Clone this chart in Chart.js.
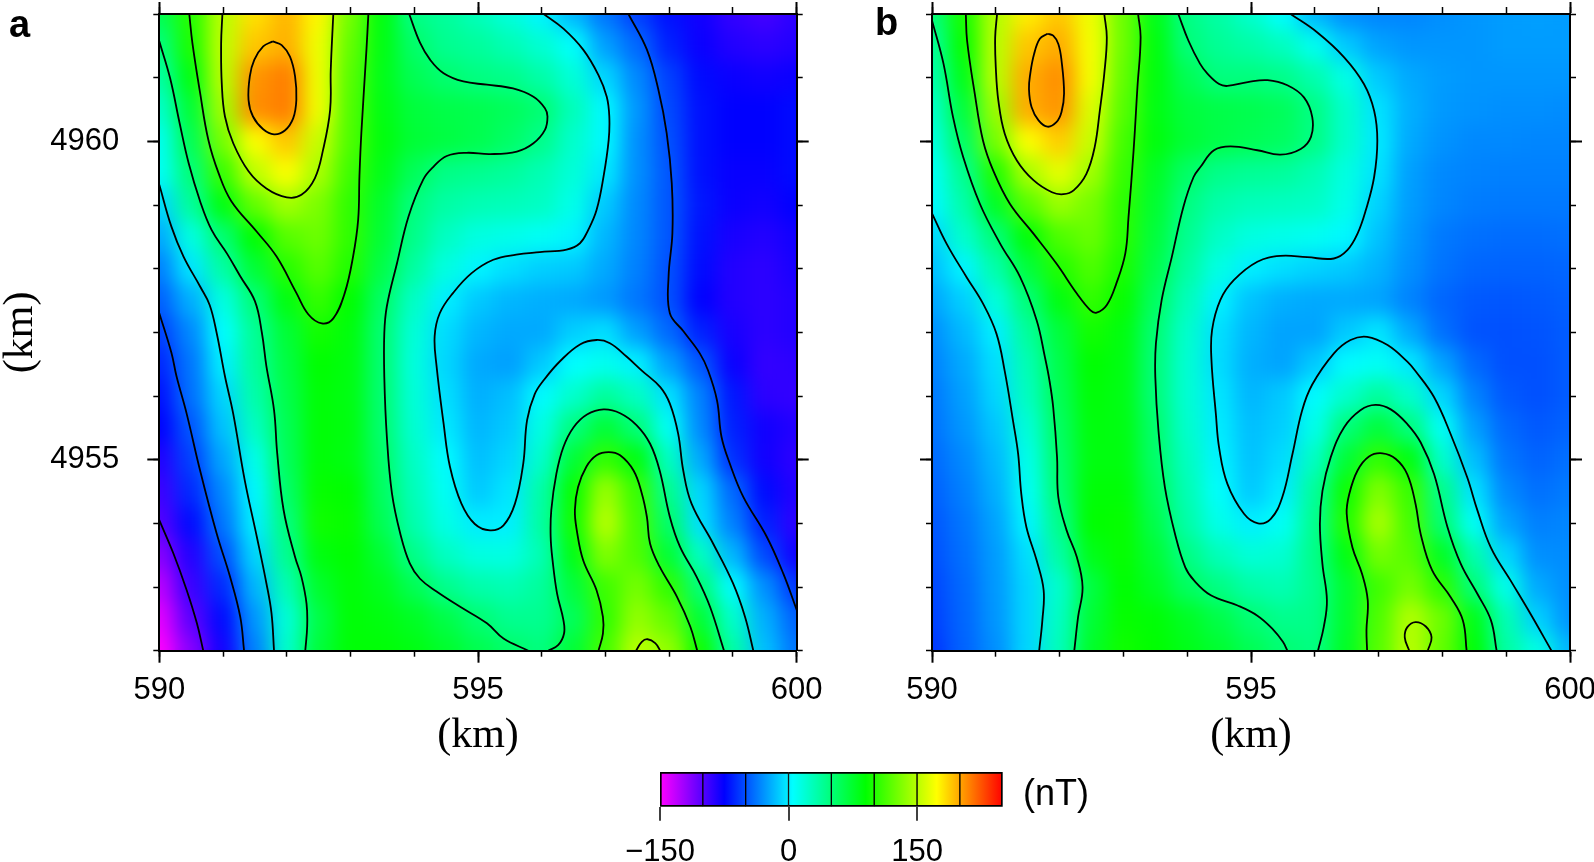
<!DOCTYPE html>
<html>
<head>
<meta charset="utf-8">
<style>
  html, body { margin: 0; background: #fff; overflow: hidden; }
  canvas { position: absolute; }
  .lab { position: absolute; color: #000; line-height: 1; white-space: nowrap; }
  .panel { font: bold 38px "Liberation Sans", sans-serif; }
  #unit { font: 36px "Liberation Sans", sans-serif; left: 1023px; top: 772px; }
</style>
<script src="https://cdn.jsdelivr.net/npm/chart.js@4"></script>
</head>
<body>
<canvas id="chartA" style="left:0;top:0" width="860" height="770"></canvas>
<canvas id="chartB" style="left:860px;top:0" width="734" height="770"></canvas>
<canvas id="chartBar" style="left:620px;top:740px" width="480" height="122"></canvas>
<div class="lab panel" style="left:9px;top:3px">a</div>
<div class="lab panel" style="left:875px;top:1px">b</div>
<div class="lab" id="unit">(nT)</div>
<script>
// grid of the two maps, km
const gridX = [590,590.5,591,591.5,592,592.5,593,593.5,594,594.5,595,595.5,596,596.5,597,597.5,598,598.5,599,599.5,600];
const gridY = [4962,4961.5,4961,4960.5,4960,4959.5,4959,4958.5,4958,4957.5,4957,4956.5,4956,4955.5,4955,4954.5,4954,4953.5,4953,4952.5,4952];
const xMajor = [590,595,600];
const xMinor = [590,591,592,593,594,595,596,597,598,599,600];
const yMajor = [4955,4960];
const yMinor = [4952,4953,4954,4955,4956,4957,4958,4959,4960,4961,4962];

// nT values, one row per gridY
const heatA = [
 [62,102,150,182,195,175,127,85,46,38,28,17,2,-18,-38,-55,-70,-80,-90,-95,-88],
 [48,98,152,190,197,168,122,84,55,42,38,30,20,6,-25,-42,-65,-78,-85,-88,-85],
 [35,85,150,205,212,168,118,82,62,53,47,44,34,18,-8,-32,-55,-72,-78,-80,-78],
 [22,72,142,207,212,168,116,84,70,66,64,60,52,28,3,-28,-52,-70,-75,-75,-72],
 [10,62,128,172,190,155,115,86,72,68,64,56,44,22,3,-30,-50,-70,-75,-75,-72],
 [8,50,108,152,172,145,110,82,60,45,42,38,30,18,-2,-30,-48,-70,-77,-77,-72],
 [-8,38,85,122,143,130,105,75,48,35,30,28,25,12,-12,-32,-48,-68,-78,-80,-75],
 [-22,15,52,90,118,125,105,72,44,25,15,12,8,2,-18,-33,-48,-70,-82,-85,-80],
 [-35,-3,35,72,102,118,100,66,36,15,2,-5,-10,-12,-22,-35,-50,-72,-85,-88,-82],
 [-45,-20,15,50,85,107,90,56,24,0,-12,-18,-20,-22,-27,-38,-50,-75,-85,-88,-85],
 [-55,-32,5,40,72,96,86,52,18,-6,-18,-22,-22,-10,-5,-25,-42,-65,-82,-88,-85],
 [-63,-38,0,38,68,90,85,52,16,-8,-22,-25,-12,5,10,1,-25,-48,-78,-90,-88],
 [-70,-40,-8,33,65,88,84,52,18,-5,-20,-15,4,22,38,25,-4,-35,-68,-88,-90],
 [-75,-48,-14,25,62,88,85,53,20,-2,-18,-12,14,48,72,50,8,-32,-65,-80,-85],
 [-85,-55,-23,12,60,88,84,56,24,4,-15,-8,22,72,106,85,25,-22,-60,-80,-88],
 [-93,-62,-32,3,55,92,90,58,28,8,-12,-3,34,92,140,108,42,-8,-42,-72,-85],
 [-100,-72,-38,0,48,95,92,62,32,13,-1,0,36,95,150,112,55,-5,-35,-65,-88],
 [-115,-85,-50,-8,42,85,90,72,44,25,15,14,30,84,132,115,72,25,-18,-52,-80],
 [-130,-92,-62,-18,30,75,88,80,62,43,33,30,38,70,110,128,105,50,4,-30,-58],
 [-142,-102,-72,-28,18,66,88,85,78,66,52,42,42,60,105,138,122,72,22,-20,-44],
 [-150,-115,-80,-35,22,70,88,88,84,75,64,55,48,72,112,150,138,95,35,-15,-38]
];

// nT values
const heatB = [
 [48,97,148,178,190,168,125,82,46,35,22,5,-18,-30,-33,-33,-30,-28,-26,-25,-26],
 [38,92,150,190,198,170,125,86,50,40,34,26,10,-12,-24,-28,-28,-28,-26,-26,-26],
 [32,82,150,198,207,170,122,86,62,48,48,44,32,13,-12,-22,-26,-28,-28,-28,-28],
 [22,70,140,198,205,162,118,84,70,66,64,60,46,22,-4,-20,-27,-29,-30,-30,-31],
 [15,58,128,172,188,155,112,86,72,66,62,58,46,22,-2,-22,-29,-32,-32,-33,-33],
 [8,42,100,145,165,142,108,78,56,44,40,38,30,15,-4,-25,-32,-34,-35,-35,-35],
 [3,33,78,118,140,128,104,74,47,33,28,26,24,12,-9,-26,-33,-36,-37,-37,-37],
 [-8,22,50,88,115,124,103,70,42,24,15,12,9,3,-14,-28,-37,-40,-41,-41,-40],
 [-15,2,33,70,100,115,98,65,36,14,0,-5,-9,-12,-19,-30,-39,-43,-44,-44,-43],
 [-23,-10,17,50,85,106,92,58,28,1,-14,-20,-22,-22,-24,-34,-43,-47,-48,-47,-45],
 [-30,-17,0,38,70,96,85,52,22,-5,-18,-24,-24,-12,-3,-22,-40,-49,-50,-49,-46],
 [-34,-22,-5,30,65,90,84,50,20,-6,-20,-24,-12,4,8,-2,-24,-42,-50,-50,-46],
 [-37,-25,-8,26,62,88,83,50,20,-3,-18,-12,4,22,38,22,-8,-34,-47,-50,-46],
 [-39,-28,-13,18,58,86,84,54,22,-1,-15,-10,12,50,70,48,8,-25,-42,-47,-44],
 [-42,-32,-17,12,55,85,85,55,26,2,-14,-6,25,72,106,85,22,-15,-38,-44,-40],
 [-45,-35,-20,8,52,88,88,60,30,6,-12,-1,38,94,132,108,44,-4,-32,-40,-36],
 [-48,-38,-24,2,44,90,92,65,34,12,0,8,42,100,145,112,52,8,-24,-35,-33],
 [-50,-40,-26,-5,35,82,92,72,46,28,18,20,44,85,128,118,78,32,-8,-30,-31],
 [-53,-42,-27,-8,22,68,90,78,58,46,34,30,42,74,110,128,104,50,12,-22,-30],
 [-55,-43,-28,-8,25,72,92,88,78,66,52,43,44,75,115,148,125,82,30,-10,-29],
 [-58,-44,-30,-8,28,76,95,90,82,74,62,52,47,78,118,150,122,88,36,14,-18]
];

// contour lines of panel a, [km east, km north]
const a200 = [[591.78,4961.57],[591.63,4961.49],[591.49,4961.28],[591.42,4961.02],[591.40,4960.65],[591.47,4960.39],[591.63,4960.19],[591.80,4960.11],[591.97,4960.17],[592.10,4960.36],[592.15,4960.65],[592.13,4961.02],[592.05,4961.33],[591.92,4961.51],[591.78,4961.57]];
const a150 = [[590.99,4962],[590.97,4961.54],[590.98,4960.91],[591.03,4960.39],[591.16,4959.97],[591.40,4959.53],[591.68,4959.26],[592.00,4959.12],[592.23,4959.16],[592.44,4959.42],[592.57,4959.87],[592.68,4960.49],[592.69,4961.12],[592.73,4962]];
const a100 = [[590.47,4962],[590.52,4961.54],[590.64,4960.76],[590.77,4960.02],[590.93,4959.5],[591.13,4959.06],[591.53,4958.58],[591.84,4958.19],[592.15,4957.62],[592.34,4957.28],[592.55,4957.14],[592.73,4957.22],[592.91,4957.62],[593.04,4958.19],[593.12,4958.77],[593.14,4959.45],[593.17,4960.13],[593.25,4961.44],[593.28,4962]];
const a50Left = [[590,4961.57],[590.17,4960.99],[590.32,4960.28],[590.46,4959.66],[590.64,4959.06],[590.82,4958.61],[591.06,4958.24],[591.27,4957.88],[591.5,4957.49],[591.61,4956.99],[591.68,4956.47],[591.8,4955.78],[591.85,4955.1],[591.95,4954.21],[592.13,4953.47],[592.23,4953.16],[592.31,4952.74],[592.32,4952.38],[592.29,4952]];
const a0Left = [[590,4959.32],[590.19,4958.66],[590.38,4958.19],[590.64,4957.72],[590.79,4957.43],[590.9,4956.99],[591.03,4956.31],[591.16,4955.72],[591.34,4954.68],[591.53,4953.79],[591.68,4953.06],[591.76,4952.59],[591.8,4952]];
const aM50Left = [[590,4957.3],[590.19,4956.68],[590.27,4956.31],[590.43,4955.72],[590.64,4954.83],[590.9,4953.84],[591.11,4953.16],[591.27,4952.53],[591.33,4952]];
const aM100 = [[590,4954.05],[590.22,4953.53],[590.43,4952.95],[590.59,4952.43],[590.69,4952]];
const a50Mid = [[593.92,4962],[594.09,4961.55],[594.25,4961.28],[594.46,4961.07],[594.77,4960.94],[595.14,4960.89],[595.55,4960.83],[595.87,4960.7],[596.05,4960.52],[596.09,4960.39],[596.05,4960.18],[595.87,4959.97],[595.61,4959.84],[595.19,4959.8],[594.82,4959.82],[594.51,4959.77],[594.3,4959.6],[594.14,4959.4],[593.91,4958.82],[593.73,4958.09],[593.57,4957.41],[593.53,4956.99],[593.53,4956.3],[593.57,4955.36],[593.65,4954.47],[593.78,4953.84],[593.93,4953.37],[594.09,4953.13],[594.35,4952.93],[594.72,4952.69],[595.14,4952.43],[595.4,4952.19],[595.79,4952]];
const a50Bell = [[596.1,4952],[596.26,4952.09],[596.35,4952.27],[596.34,4952.48],[596.24,4952.9],[596.17,4953.42],[596.14,4953.79],[596.15,4954.21],[596.23,4954.78],[596.34,4955.2],[596.5,4955.51],[596.71,4955.71],[596.97,4955.79],[597.23,4955.73],[597.49,4955.54],[597.7,4955.25],[597.85,4954.83],[598.01,4954.1],[598.17,4953.63],[598.43,4953.16],[598.64,4952.69],[598.86,4952]];
const a100Bell = [[596.89,4952],[596.96,4952.27],[596.96,4952.53],[596.86,4952.95],[596.65,4953.42],[596.55,4953.89],[596.52,4954.21],[596.57,4954.57],[596.7,4954.89],[596.86,4955.07],[597.05,4955.12],[597.23,4955.07],[597.44,4954.83],[597.57,4954.47],[597.65,4954.1],[597.7,4953.68],[597.85,4953.32],[598.12,4952.85],[598.33,4952.38],[598.44,4952]];
const a150Bell = [[597.48,4952],[597.57,4952.14],[597.66,4952.18],[597.78,4952.12],[597.86,4952]];
const a0Right = [[596.03,4962],[596.34,4961.77],[596.65,4961.44],[596.89,4961.04],[597.02,4960.7],[597.06,4960.39],[597.05,4960.02],[596.97,4959.45],[596.86,4958.92],[596.73,4958.61],[596.6,4958.4],[596.39,4958.3],[595.97,4958.26],[595.6,4958.22],[595.24,4958.14],[594.9,4957.93],[594.61,4957.62],[594.4,4957.3],[594.32,4956.94],[594.35,4956.47],[594.46,4955.57],[594.56,4954.89],[594.74,4954.31],[594.95,4953.99],[595.19,4953.89],[595.4,4953.97],[595.58,4954.31],[595.71,4954.94],[595.77,4955.62],[595.89,4956.03],[596.04,4956.26],[596.29,4956.55],[596.6,4956.81],[596.86,4956.88],[597.07,4956.83],[597.33,4956.62],[597.57,4956.4],[597.86,4956.14],[598.01,4955.88],[598.14,4955.41],[598.22,4954.83],[598.35,4954.31],[598.69,4953.68],[599.0,4953.06],[599.19,4952.53],[599.32,4952]];
const aM50Right = [[597.36,4962],[597.65,4961.44],[597.83,4960.81],[597.96,4960.13],[598.04,4959.34],[598.05,4958.56],[597.99,4957.88],[598.01,4957.3],[598.22,4957.02],[598.48,4956.67],[598.61,4956.4],[598.75,4955.93],[598.82,4955.36],[598.95,4954.94],[599.16,4954.42],[599.53,4953.79],[599.79,4953.21],[600,4952.64]];
const contoursA = [a200,a150,a100,a50Left,a0Left,aM50Left,aM100,a50Mid,a50Bell,a100Bell,a150Bell,a0Right,aM50Right];

// contour lines of panel b
const b200 = [[591.81,4961.69],[591.69,4961.61],[591.6,4961.37],[591.54,4961.06],[591.52,4960.82],[591.56,4960.54],[591.67,4960.33],[591.81,4960.23],[591.95,4960.3],[592.03,4960.46],[592.07,4960.75],[592.03,4961.27],[591.98,4961.53],[591.9,4961.66],[591.81,4961.69]];
const b150 = [[591.02,4962],[590.99,4961.63],[591,4961.16],[591.04,4960.64],[591.14,4960.12],[591.33,4959.7],[591.59,4959.39],[591.88,4959.2],[592.06,4959.17],[592.22,4959.23],[592.42,4959.49],[592.55,4959.91],[592.63,4960.48],[592.7,4961.06],[592.74,4961.63],[592.7,4962]];
const b100 = [[590.53,4962],[590.55,4961.58],[590.67,4960.75],[590.8,4960.01],[590.96,4959.54],[591.22,4959.02],[591.59,4958.55],[591.95,4958.08],[592.27,4957.61],[592.48,4957.35],[592.58,4957.31],[592.74,4957.43],[592.89,4957.77],[593.03,4958.24],[593.08,4958.81],[593.16,4959.86],[593.22,4960.85],[593.27,4961.63],[593.23,4962]];
const b50Left = [[590,4961.9],[590.18,4961.22],[590.33,4960.38],[590.49,4959.75],[590.75,4959.02],[591.07,4958.39],[591.38,4957.87],[591.64,4957.19],[591.77,4956.61],[591.84,4956.25],[591.9,4955.82],[591.96,4955.04],[591.98,4954.41],[592.11,4953.89],[592.27,4953.47],[592.36,4953],[592.29,4952.53],[592.23,4952]];
const b0Left = [[590,4958.87],[590.23,4958.39],[590.54,4957.87],[590.8,4957.45],[591.01,4956.98],[591.14,4956.39],[591.27,4955.61],[591.35,4955.09],[591.4,4954.46],[591.48,4953.94],[591.64,4953.42],[591.75,4952.95],[591.73,4952.48],[591.68,4952]];
const b50Mid = [[593.86,4962],[594.02,4961.58],[594.2,4961.22],[594.32,4961.06],[594.5,4960.9],[594.63,4960.87],[594.95,4960.93],[595.26,4960.96],[595.57,4960.88],[595.83,4960.69],[595.96,4960.38],[595.94,4960.07],[595.78,4959.88],[595.46,4959.79],[595.1,4959.86],[594.68,4959.92],[594.42,4959.86],[594.21,4959.6],[594.1,4959.44],[593.94,4958.97],[593.76,4958.19],[593.6,4957.51],[593.51,4956.83],[593.5,4956.3],[593.55,4955.45],[593.65,4954.57],[593.81,4953.83],[593.97,4953.31],[594.11,4953.1],[594.37,4952.87],[594.79,4952.71],[595.1,4952.55],[595.34,4952.34],[595.5,4952.14],[595.57,4952]];
const b50Bell = [[596.05,4952],[596.14,4952.37],[596.19,4952.79],[596.12,4953.36],[596.08,4953.99],[596.12,4954.51],[596.25,4955.04],[596.46,4955.51],[596.72,4955.78],[596.95,4955.86],[597.19,4955.79],[597.45,4955.56],[597.66,4955.27],[597.87,4954.77],[598.08,4953.94],[598.29,4953.36],[598.55,4952.89],[598.76,4952.48],[598.85,4952]];
const b100Bell = [[596.82,4952],[596.81,4952.32],[596.83,4952.79],[596.74,4953.21],[596.59,4953.62],[596.5,4954.15],[596.54,4954.46],[596.67,4954.83],[596.85,4955.05],[597.06,4955.1],[597.27,4955.01],[597.45,4954.77],[597.58,4954.3],[597.66,4953.83],[597.84,4953.26],[598.13,4952.84],[598.32,4952.48],[598.38,4952]];
const b150Bell = [[597.48,4952],[597.41,4952.21],[597.45,4952.37],[597.58,4952.45],[597.74,4952.38],[597.83,4952.21],[597.77,4952]];
const b0Right = [[595.62,4962],[596.04,4961.71],[596.46,4961.32],[596.77,4960.9],[596.93,4960.48],[596.98,4960.01],[596.93,4959.44],[596.8,4958.92],[596.67,4958.55],[596.51,4958.29],[596.3,4958.16],[595.88,4958.18],[595.46,4958.2],[595.1,4958.11],[594.73,4957.82],[594.52,4957.51],[594.39,4957.04],[594.38,4956.57],[594.45,4955.71],[594.5,4955.19],[594.63,4954.62],[594.89,4954.15],[595.11,4954],[595.31,4954.07],[595.49,4954.41],[595.65,4955.09],[595.8,4955.77],[595.96,4956.18],[596.3,4956.67],[596.56,4956.88],[596.82,4956.93],[597.14,4956.8],[597.45,4956.54],[597.58,4956.39],[597.87,4955.98],[598.13,4955.4],[598.39,4954.72],[598.55,4954.2],[598.76,4953.62],[599.07,4953.1],[599.38,4952.58],[599.71,4952]];
const contoursB = [b200,b150,b100,b50Left,b0Left,b50Mid,b50Bell,b100Bell,b150Bell,b0Right];

// colour scale
const stopValues = [-150,-75,5,90,173,250];
const stopColors = [[255,0,255],[0,0,255],[0,255,255],[0,255,0],[255,255,0],[255,0,0]];
const barLevels = [-150,-100,-50,0,50,100,150,200,250];
const barTicks = [-150,0,150];

function colorOf(v) {
  let i = 0;
  while (i < stopValues.length - 2 && v > stopValues[i + 1]) i++;
  const t = Math.min(1, Math.max(0, (v - stopValues[i]) / (stopValues[i + 1] - stopValues[i])));
  const c = stopColors[i].map((a, k) => Math.round(a + (stopColors[i + 1][k] - a) * t));
  return 'rgb(' + c.join(',') + ')';
}

const numFont = { family: 'Liberation Sans', size: 31 };

// the original cells are tiny, so soften the coarser grid once it is drawn
const softCells = {
  id: 'softCells',
  afterDatasetDraw(chart, args) {
    if (!chart.data.datasets[args.index].isHeat) return;
    const a = chart.chartArea, ctx = chart.ctx, cv = chart.canvas;
    const tmp = document.createElement('canvas');
    tmp.width = cv.width;
    tmp.height = cv.height;
    tmp.getContext('2d').drawImage(cv, 0, 0);
    ctx.save();
    ctx.clearRect(0, 0, cv.width, cv.height);
    ctx.beginPath();
    ctx.rect(a.left, a.top, a.right - a.left, a.bottom - a.top);
    ctx.clip();
    ctx.drawImage(tmp, 0, 0);
    ctx.filter = 'blur(10px)';
    ctx.drawImage(tmp, 0, 0);
    ctx.restore();
  }
};

function noSize(scale) {
  if (scale.isHorizontal()) scale.height = 0; else scale.width = 0;
  scale.paddingLeft = scale.paddingRight = scale.paddingTop = scale.paddingBottom = 0;
}

function tickAxis(position, lo, hi, values, len, width, extra) {
  return Object.assign({
    type: 'linear', position: position, min: lo, max: hi, weight: -1,
    afterBuildTicks: s => { s.ticks = values.map(v => ({ value: v })); },
    afterFit: noSize,
    grid: { z: 1, drawOnChartArea: false, drawTicks: true, tickLength: len, tickWidth: width, tickColor: '#000' },
    border: { display: true, color: '#000', width: 2, z: 1 },
    ticks: { z: 1, display: false, autoSkip: false, maxRotation: 0 }
  }, extra);
}

function panel(id, rows, lines, left, right, showY) {
  const cells = [];
  gridY.forEach((y, i) => gridX.forEach((x, j) => cells.push({ x: x, y: y, v: rows[i][j] })));

  const datasets = lines.map(l => ({
    type: 'scatter', showLine: true, order: 0, clip: 0,
    data: l.map(p => ({ x: p[0], y: p[1] })),
    borderColor: '#000', borderWidth: 1.8, tension: 0.4, pointRadius: 0
  }));
  datasets.push({
    type: 'scatter', isHeat: true, order: 1, clip: false, data: cells,
    pointStyle: 'rect', borderWidth: 0,
    backgroundColor: c => colorOf(c.raw.v),
    radius: c => {
      const s = c.chart.scales.x;
      return (Math.abs(s.getPixelForValue(gridX[1]) - s.getPixelForValue(gridX[0])) + 1) * Math.SQRT1_2;
    }
  });

  const yLeft = tickAxis('left', 4952, 4962, yMajor, 12, 2, { weight: 0 });
  yLeft.afterFit = s => { noSize(s); s.width = left; };
  if (showY) {
    yLeft.ticks = { z: 1, display: true, font: numFont, color: '#000', padding: 28, autoSkip: false, maxRotation: 0, callback: v => String(v) };
    yLeft.title = { display: true, text: '(km)', color: '#000', font: { family: 'Liberation Serif', size: 42, lineHeight: 1 }, padding: 0 };
  }

  const xBottom = tickAxis('bottom', 590, 600, xMajor, 12, 2, { weight: 0 });
  xBottom.afterFit = s => { noSize(s); s.height = 119.3; };
  xBottom.ticks = { z: 1, display: true, font: numFont, color: '#000', padding: 9, autoSkip: false, maxRotation: 0, callback: v => String(v) };
  xBottom.title = { display: true, text: '(km)', color: '#000', font: { family: 'Liberation Serif', size: 42, lineHeight: 1 }, padding: { top: 0, bottom: 13 } };

  return new Chart(document.getElementById(id), {
    type: 'scatter',
    data: { datasets: datasets },
    plugins: [softCells],
    options: {
      responsive: false,
      animation: false,
      events: [],
      layout: { padding: { left: 0, top: 14, right: right, bottom: 0 } },
      plugins: { legend: { display: false }, tooltip: { enabled: false } },
      scales: {
        x: xBottom,
        xSmall: tickAxis('bottom', 590, 600, xMinor, 6, 1.5),
        xTop: tickAxis('top', 590, 600, xMajor, 12, 2, { weight: 0 }),
        xTopSmall: tickAxis('top', 590, 600, xMinor, 7, 1.5),
        y: yLeft,
        ySmall: tickAxis('left', 4952, 4962, yMinor, 6, 1.5),
        yRight: tickAxis('right', 4952, 4962, yMajor, 12, 2, { weight: 0 }),
        yRightSmall: tickAxis('right', 4952, 4962, yMinor, 6, 1.5)
      }
    }
  });
}

panel('chartA', heatA, contoursA, 159.3, 63.3, true);
panel('chartB', heatB, contoursB, 72, 24, false);

// colour bar
function barFill(c) {
  const s = c.chart.scales.x;
  if (!s || !c.chart.chartArea) return '#fff';
  const g = c.chart.ctx.createLinearGradient(s.getPixelForValue(-150), 0, s.getPixelForValue(250), 0);
  stopValues.forEach((v, i) => g.addColorStop((v + 150) / 400, 'rgb(' + stopColors[i].join(',') + ')'));
  return g;
}
const barSets = barLevels.slice(0, -1).map((lo, i) => ({
  data: [[lo, barLevels[i + 1]]],
  backgroundColor: barFill,
  borderColor: '#000',
  borderSkipped: false,
  borderWidth: { top: 2, bottom: 2, left: i === 0 ? 2 : 1, right: i === barLevels.length - 2 ? 2 : 1 },
  categoryPercentage: 1,
  barPercentage: 1
}));
new Chart(document.getElementById('chartBar'), {
  type: 'bar',
  data: { labels: ['nT'], datasets: barSets },
  options: {
    indexAxis: 'y',
    responsive: false,
    animation: false,
    events: [],
    layout: { padding: { left: 40, top: 32, right: 97.3, bottom: 0 } },
    plugins: { legend: { display: false }, tooltip: { enabled: false } },
    scales: {
      y: { type: 'category', display: false, stacked: true },
      x: {
        type: 'linear', position: 'bottom', min: -150, max: 250, stacked: false,
        afterBuildTicks: s => { s.ticks = barTicks.map(v => ({ value: v })); },
        afterFit: s => { s.height = 55.3; s.paddingLeft = s.paddingRight = 0; },
        grid: { lineWidth: 0, drawOnChartArea: false, drawTicks: true, tickLength: 14, tickWidth: 1.5, tickColor: '#000' },
        border: { display: false },
        ticks: { font: numFont, color: '#000', padding: 13, autoSkip: false, maxRotation: 0, callback: v => String(v).replace('-', '\u2212') }
      }
    }
  }
});
</script>
</body>
</html>
